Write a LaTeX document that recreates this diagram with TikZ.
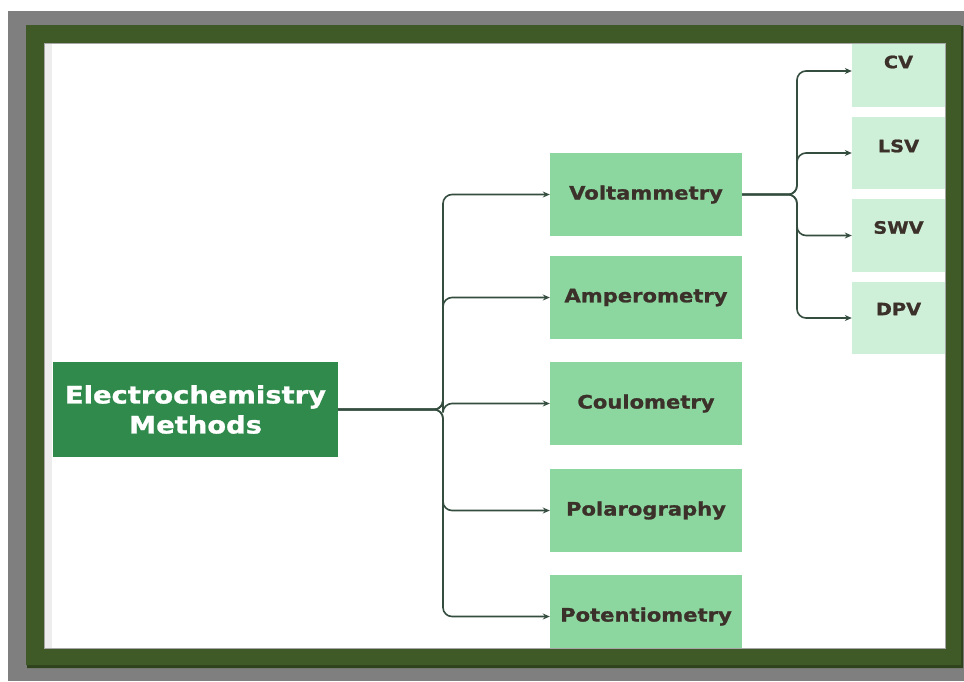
\documentclass[tikz,border=0pt]{standalone}
\usepackage{fontspec}
\newfontfamily\boxfont[FakeStretch=1.14,BoldFeatures={FakeBold=1.2}]{DejaVu Sans}
\usetikzlibrary{arrows.meta}
\definecolor{bggray}{HTML}{7F7F7F}
\definecolor{framegreen}{HTML}{3F5A27}
\definecolor{framedark}{HTML}{2E431C}
\definecolor{mainfill}{HTML}{2F8A4C}
\definecolor{midfill}{HTML}{8CD79F}
\definecolor{rightfill}{HTML}{CFF0D8}
\definecolor{txt}{HTML}{3B302A}
\definecolor{linecol}{HTML}{344D3F}
\tikzset{
  mainbox/.style={fill=mainfill, minimum width=285pt, minimum height=95pt, inner sep=0pt,
    text=white, font=\boxfont\bfseries\fontsize{24}{30}\selectfont, align=center},
  midbox/.style={fill=midfill, minimum width=192pt, minimum height=83pt, inner sep=0pt,
    text=txt, font=\boxfont\bfseries\fontsize{18.5}{20}\selectfont},
  rightbox/.style={fill=rightfill, minimum width=93pt, inner sep=0pt},
  righttext/.style={text=txt, font=\boxfont\bfseries\fontsize{17}{18}\selectfont},
  conn/.style={draw=linecol, line width=1.6pt, rounded corners=9pt, -{Stealth[length=7pt,width=6pt]}}
}
\begin{document}
\begin{tikzpicture}[x=1pt,y=-1pt]
\useasboundingbox (0,0) rectangle (964,681);
% background
\fill[white] (0,0) rectangle (964,681);
\fill[bggray] (8,11) rectangle (964,681);
\fill[white] (44,43) rectangle (945,648);
\fill[black!7] (44,43) rectangle (52,648);
% nodes
\node[mainbox] (main) at (195.5,409.5) {Electrochemistry\\Methods};
\node[midbox] (volt) at (646,194.5) {Voltammetry};
\node[midbox] (amp) at (646,297.5) {Amperometry};
\node[midbox] (coul) at (646,403.5) {Coulometry};
\node[midbox] (pol) at (646,510.5) {Polarography};
\node[midbox] (pot) at (646,616.5) {Potentiometry};
\node[rightbox, minimum height=72pt, label={[righttext,yshift=9pt]center:CV}] (cv) at (898.5,71) {};
\node[rightbox, minimum height=72pt, label={[righttext,yshift=7pt]center:LSV}] (lsv) at (898.5,153) {};
\node[rightbox, minimum height=73pt, label={[righttext,yshift=8pt]center:SWV}] (swv) at (898.5,235.5) {};
\node[rightbox, minimum height=72pt, label={[righttext,yshift=9pt]center:DPV}] (dpv) at (898.5,318) {};
% trunk coordinates
\coordinate (tx) at (443,0);
\coordinate (sx) at (797,0);
% connectors
\foreach \t in {volt,amp,coul,pol,pot}
  \draw[conn] (main.east) -| (tx |- \t.west) -- (\t.west);
\foreach \t in {cv,lsv,swv,dpv}
  \draw[conn] (volt.east) -| (sx |- \t.west) -- (\t.west);
% frame on top
\fill[framedark, even odd rule] (27,26) rectangle (963,668) (44,43) rectangle (945,648);
\fill[framegreen, even odd rule] (26,25) rectangle (961,665) (44,43) rectangle (945,648);
\draw[black!35, line width=0.6pt] (44,43) rectangle (945,648);
\end{tikzpicture}
\end{document}
